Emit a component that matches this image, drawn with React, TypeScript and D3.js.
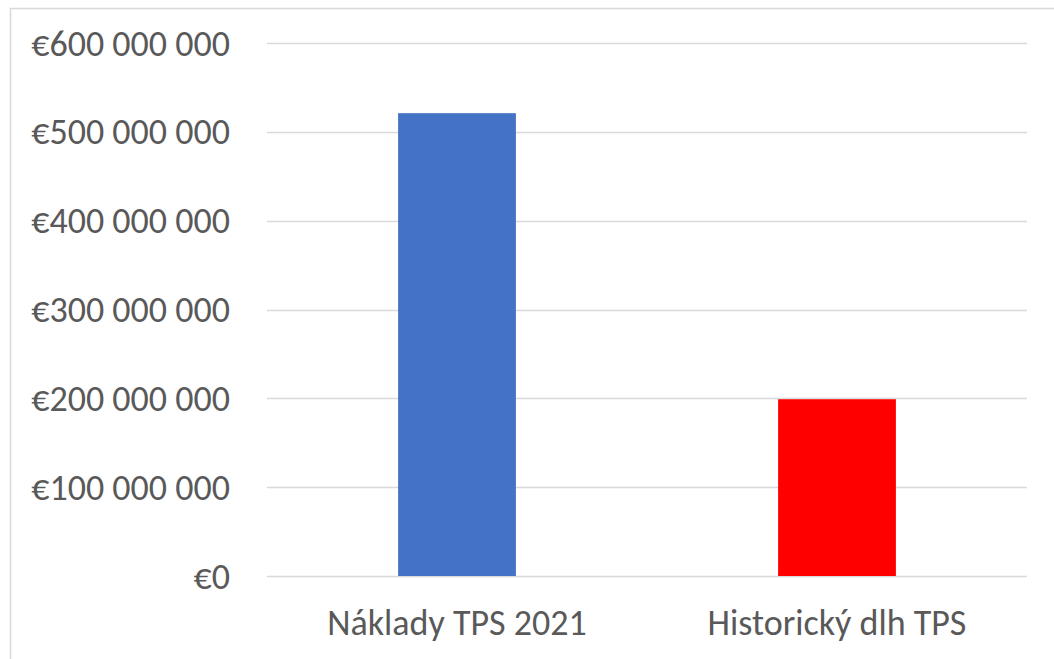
import React, { useEffect, useRef } from "react"
import * as d3 from "d3"

const categories = ["Náklady TPS 2021", "Historický dlh TPS"]
const values = [521000000, 199000000]
const barColors = ["#4472C4", "#FF0000"]
const yTicks = [0, 100000000, 200000000, 300000000, 400000000, 500000000, 600000000]

const W = 1054
const H = 659
const FONT = "Carlito, Calibri, Lato, sans-serif"

function formatEuro(v: number) {
  // thousands separated by spaces, euro sign in front
  const s = String(Math.round(v)).replace(/\B(?=(\d{3})+(?!\d))/g, " ")
  return "€" + s
}

export default function App() {
  const svgRef = useRef<SVGSVGElement>(null)

  useEffect(() => {
    const svg = d3.select(svgRef.current)
    svg.selectAll("*").remove()

    const margin = { top: 43, right: 27, bottom: 83, left: 267 }
    const width = W - margin.left - margin.right
    const height = H - margin.top - margin.bottom

    // chart frame (cut off on the right and bottom like the original)
    svg.append("rect")
      .attr("x", 10.5).attr("y", 8.5)
      .attr("width", 1100).attr("height", 700)
      .attr("fill", "none").attr("stroke", "#d9d9d9").attr("stroke-width", 1.5)

    const g = svg.append("g").attr("transform", `translate(${margin.left},${margin.top})`)

    const x = d3.scaleBand()
      .domain(categories)
      .range([0, width])
      .paddingInner(0.69)
      .paddingOuter(0.345)

    const y = d3.scaleLinear().domain([0, 600000000]).range([height, 0])

    // gridlines
    g.selectAll("line.grid")
      .data(yTicks)
      .enter()
      .append("line")
      .attr("x1", 0).attr("x2", width)
      .attr("y1", d => Math.round(y(d)) + 0.5)
      .attr("y2", d => Math.round(y(d)) + 0.5)
      .attr("stroke", "#d9d9d9").attr("stroke-width", 1.5)

    // y labels
    g.selectAll("text.ylab")
      .data(yTicks)
      .enter()
      .append("text")
      .attr("x", -37)
      .attr("y", d => y(d))
      .attr("dy", "0.35em")
      .attr("text-anchor", "end")
      .attr("font-family", FONT)
      .attr("font-size", 36)
      .attr("fill", "#595959")
      .text(d => formatEuro(d))

    // bars
    g.selectAll("rect.bar")
      .data(values)
      .enter()
      .append("rect")
      .attr("x", (d, i) => x(categories[i])!)
      .attr("y", d => y(d))
      .attr("width", x.bandwidth())
      .attr("height", d => height - y(d))
      .attr("fill", (d, i) => barColors[i])

    // x labels
    g.selectAll("text.xlab")
      .data(categories)
      .enter()
      .append("text")
      .attr("x", d => x(d)! + x.bandwidth() / 2)
      .attr("y", height + 46)
      .attr("dy", "0.35em")
      .attr("text-anchor", "middle")
      .attr("font-family", FONT)
      .attr("font-size", 36)
      .attr("fill", "#595959")
      .text(d => d)
  }, [])

  return (
    <svg ref={svgRef} width={W} height={H}
      style={{ position: "absolute", left: 0, top: 0, display: "block", background: "#fff" }} />
  )
}
